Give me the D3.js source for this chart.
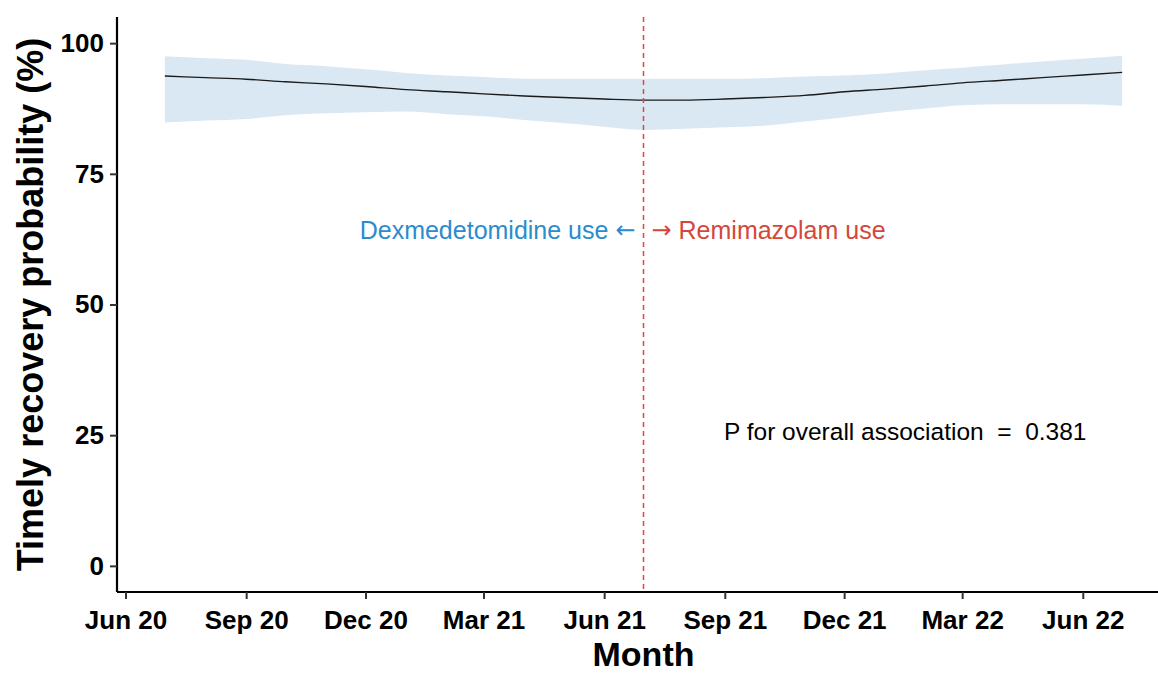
<!DOCTYPE html>
<html><head><meta charset="utf-8">
<script src="https://cdn.jsdelivr.net/npm/d3@7"></script>
<style>body{margin:0;background:#fff}svg{display:block}text{font-family:"Liberation Sans",Arial,sans-serif}</style>
</head><body><svg id="c" width="1158" height="675"></svg>
<script>
const months = ["2020-07","2020-08","2020-09","2020-10","2020-11","2020-12","2021-01","2021-02","2021-03","2021-04","2021-05","2021-06","2021-07","2021-08","2021-09","2021-10","2021-11","2021-12","2022-01","2022-02","2022-03","2022-04","2022-05","2022-06","2022-07"];
const fitValues   = [93.7,93.4,93.1,92.6,92.2,91.7,91.1,90.7,90.3,89.9,89.6,89.3,89.1,89.1,89.3,89.6,90.0,90.7,91.2,91.8,92.4,92.9,93.4,93.9,94.4];
const lowerValues = [84.8,85.2,85.5,86.2,86.6,86.8,86.9,86.4,86.0,85.3,84.7,84.0,83.4,83.6,83.9,84.2,85.0,85.8,86.8,87.5,88.1,88.3,88.3,88.3,88.0];
const upperValues = [97.5,97.1,96.8,96.0,95.6,95.0,94.3,93.8,93.5,93.2,93.2,93.2,93.2,93.2,93.2,93.3,93.6,93.8,94.2,94.8,95.3,95.9,96.5,97.0,97.6];
const xTickDates  = ["2020-06","2020-09","2020-12","2021-03","2021-06","2021-09","2021-12","2022-03","2022-06"];
const xTickLabels = ["Jun 20","Sep 20","Dec 20","Mar 21","Jun 21","Sep 21","Dec 21","Mar 22","Jun 22"];
const yTicks = [0,25,50,75,100];
const cutoffMonth = "2021-07";
const pText = "P for overall association  =  0.381";

const parse = d3.timeParse("%Y-%m");
const data = months.map((m,i)=>({d:parse(m), fit:fitValues[i], lo:lowerValues[i], hi:upperValues[i]}));

const svg = d3.select("#c");
const L=117, R=1170, T=17, B=592;
const ext = d3.extent(data, d=>d.d);
const span = ext[1]-ext[0];
const x = d3.scaleTime().domain([new Date(+ext[0]-span*0.05), new Date(+ext[1]+span*0.05)]).range([L,R]);
const y = d3.scaleLinear().domain([-5,105]).range([B,T]);

// ribbon
svg.append("path").datum(data)
  .attr("d", d3.area().x(d=>x(d.d)).y0(d=>y(d.lo)).y1(d=>y(d.hi)).curve(d3.curveMonotoneX))
  .attr("fill","#d9e8f3");
// line
svg.append("path").datum(data)
  .attr("d", d3.line().x(d=>x(d.d)).y(d=>y(d.fit)).curve(d3.curveMonotoneX))
  .attr("fill","none").attr("stroke","#1b1b1b").attr("stroke-width",1.4);

// cutoff
const cx = x(parse(cutoffMonth));
svg.append("line").attr("x1",cx).attr("x2",cx).attr("y1",T).attr("y2",B)
  .attr("stroke","#e0463a").attr("stroke-width",1.5).attr("stroke-dasharray","5,4");

// annotations
const ay = y(64.3);
const t1 = svg.append("text").attr("x",cx-8).attr("y",ay).attr("text-anchor","end").attr("dominant-baseline","central")
  .attr("font-size",25).attr("fill","#2b8ccd");
t1.append("tspan").text("Dexmedetomidine use ");
t1.append("tspan").style("font-family","DejaVu Sans").attr("font-size",24).text("\u2190");
const t2 = svg.append("text").attr("x",cx+8).attr("y",ay).attr("text-anchor","start").attr("dominant-baseline","central")
  .attr("font-size",25).attr("fill","#d4473a");
t2.append("tspan").style("font-family","DejaVu Sans").attr("font-size",24).text("\u2192");
t2.append("tspan").text(" Remimazolam use");
svg.append("text").attr("x",724).attr("y",y(25.7)).attr("dominant-baseline","central")
  .attr("font-size",24.5).attr("fill","#000").style("white-space","pre").text(pText);

// axes
const xAxis = d3.axisBottom(x).tickValues(xTickDates.map(parse)).tickFormat((d,i)=>xTickLabels[i]).tickSize(7).tickSizeOuter(0);
const gx = svg.append("g").attr("transform",`translate(0,${B})`).call(xAxis);
gx.select(".domain").attr("d",`M${L},0H1158`).attr("stroke","#000").attr("stroke-width",2.2);
gx.selectAll(".tick line").attr("stroke","#333").attr("stroke-width",2);
gx.selectAll(".tick text").attr("font-size",26).attr("font-weight","bold").attr("fill","#000").attr("dy","1.05em");

const yAxis = d3.axisLeft(y).tickValues(yTicks).tickSize(7).tickSizeOuter(0);
const gy = svg.append("g").attr("transform",`translate(${L},0)`).call(yAxis);
gy.select(".domain").attr("d",`M0,${T}V${B}`).attr("stroke","#000").attr("stroke-width",2.2);
gy.selectAll(".tick line").attr("stroke","#333").attr("stroke-width",2);
gy.selectAll(".tick text").attr("font-size",26).attr("font-weight","bold").attr("fill","#000").attr("x",-13);

svg.append("text").attr("x",(L+R)/2).attr("y",666).attr("text-anchor","middle")
  .attr("font-size",34).attr("font-weight","bold").text("Month");
svg.append("text").attr("transform",`translate(43,${(T+B)/2}) rotate(-90)`).attr("text-anchor","middle")
  .attr("font-size",36).attr("font-weight","bold").text("Timely recovery probability (%)");
</script></body></html>
